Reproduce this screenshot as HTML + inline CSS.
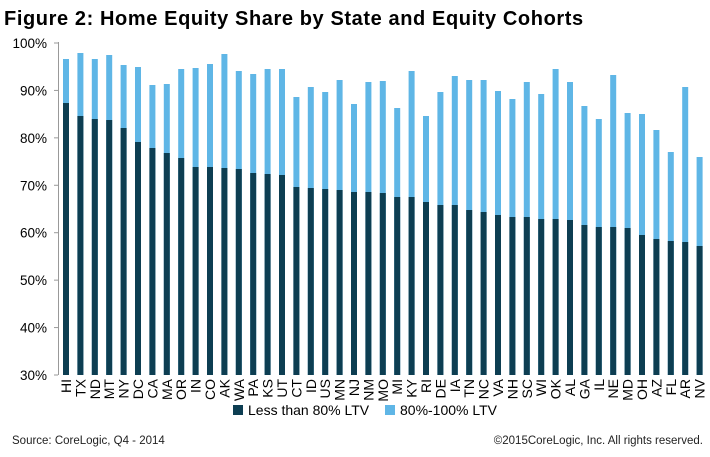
<!DOCTYPE html>
<html><head><meta charset="utf-8"><style>
body{margin:0;background:#fff;}
svg{display:block;font-family:"Liberation Sans",Arial,sans-serif;}
</style></head><body>
<svg id="c" width="710" height="457" viewBox="0 0 710 457" xmlns="http://www.w3.org/2000/svg">
<rect width="710" height="457" fill="#fff"/>
<text x="4" y="25" font-size="20" font-weight="bold" fill="#000" letter-spacing="0.6">Figure 2: Home Equity Share by State and Equity Cohorts</text>
<g id="ax" stroke="#999" stroke-width="1"><line x1="58.5" y1="42" x2="58.5" y2="375"/></g>
<g id="yl" font-size="13.5" fill="#000" text-anchor="end"></g>
<g id="bars"></g>
<g id="xl" font-size="14" fill="#000"></g>
<rect x="233" y="405" width="10" height="10" fill="#0d3e52"/>
<text x="248" y="415" font-size="14">Less than 80% LTV</text>
<rect x="385" y="405" width="10" height="10" fill="#5fb6e6"/>
<text x="400" y="415" font-size="14">80%-100% LTV</text>
<text x="12" y="444" font-size="11.5" fill="#222">Source: CoreLogic, Q4 - 2014</text>
<text x="703" y="444" font-size="11.5" fill="#222" text-anchor="end">©2015CoreLogic, Inc. All rights reserved.</text>
</svg>
<script>
var st="HI TX ND MT NY DC CA MA OR IN CO AK WA PA KS UT CT ID US MN NJ NM MO MI KY RI DE IA TN NC VA NH SC WI OK AL GA IL NE MD OH AZ FL AR NV".split(" ");
var lt=[59,53,59,55,65,67,85,84,69,68,64,54,71,74,69,69,97,87,92,80,104,82,81,108,71,116,92,76,80,80,91,99,82,94,69,82,106,119,75,113,114,130,152,87,157];
var dk=[103,116,119,120,128,142,148,153,158,167,167,168,169,173,174,175,187,188,189,190,192,192,193,197,197,202,205,205,210,212,215,217,217,219,219,220,225,227,227,228,235,239,241,242,246];
var ns="http://www.w3.org/2000/svg",b=document.getElementById("bars"),xl=document.getElementById("xl"),yl=document.getElementById("yl"),ax=document.getElementById("ax");
function el(t,a,p){var e=document.createElementNS(ns,t);for(var k in a)e.setAttribute(k,a[k]);p.appendChild(e);return e;}
for(var i=0;i<8;i++){var y=375-i*47.43;el("line",{x1:54,x2:58,y1:y,y2:y},ax);var t=el("text",{x:47,y:y+5},yl);t.textContent=(30+i*10)+"%";}
for(var i=0;i<45;i++){var x=63+i*14.4;
el("rect",{x:x,y:lt[i],width:6,height:375-lt[i],fill:"#5fb6e6"},b);
el("rect",{x:x,y:dk[i],width:6,height:375-dk[i],fill:"#0d3e52"},b);
var cx=x+3+5;var t=el("text",{x:cx,y:379,transform:"rotate(-90 "+cx+" 379)","text-anchor":"end"},xl);t.textContent=st[i];}
</script>
</body></html>
